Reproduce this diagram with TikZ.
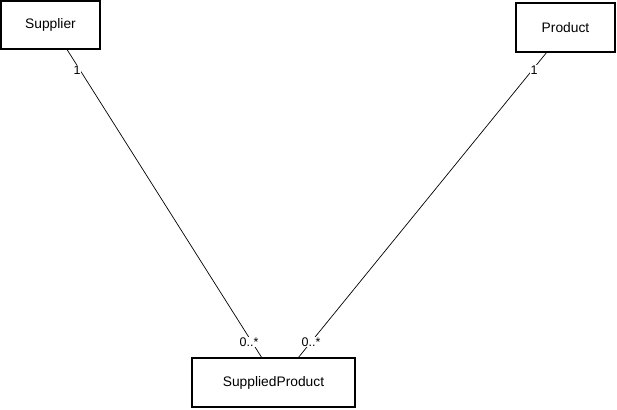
\documentclass[tikz,border=0pt]{standalone}
\usepackage{fontspec}
\setmainfont{Liberation Sans}
\begin{document}
\begin{tikzpicture}[x=1pt,y=-1pt,
  entity/.style={draw,line width=1.4pt,fill=white,inner sep=0pt,font=\fontsize{13.8}{16}\selectfont},
  assoc/.style={line width=0.7pt},
  mult/.style={fill=white,inner sep=1pt,font=\fontsize{12.5}{14}\selectfont}]
\useasboundingbox (0,0) rectangle (617,409);
\node[entity,minimum width=99pt,minimum height=48pt] (sup) at (50.5,25) {Supplier};
\node[entity,minimum width=99pt,minimum height=49pt] (prod) at (565.5,27.5) {Product};
\node[entity,minimum width=163pt,minimum height=49pt] (sp) at (273.5,382.5) {SuppliedProduct};
\coordinate (a1) at (67,49.5);
\coordinate (a2) at (262,358);
\coordinate (b1) at (547,52);
\coordinate (b2) at (298,358);
\draw[assoc] (a1) -- (a2);
\draw[assoc] (b1) -- (b2);
\node[mult] (m1) at (77,70) {1};
\node[mult] (m2) at (249,342) {0..*};
\node[mult] (m3) at (534,70) {1};
\node[mult] (m4) at (311,342) {0..*};
\end{tikzpicture}
\end{document}
